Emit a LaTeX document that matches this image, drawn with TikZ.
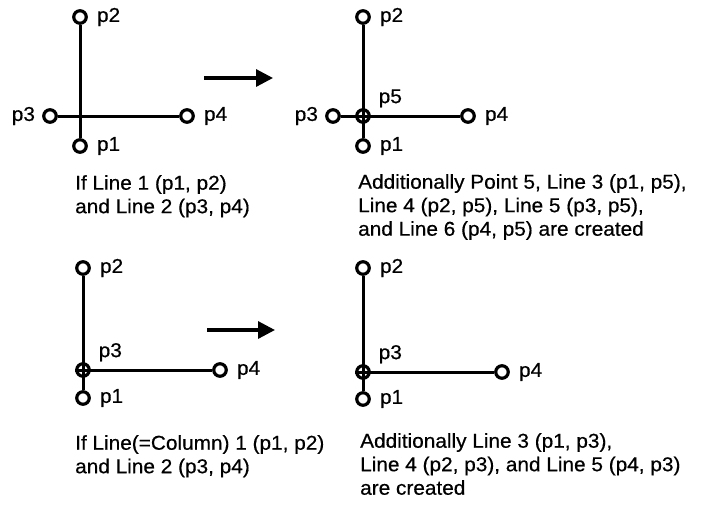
\documentclass[tikz,border=0pt]{standalone}
\usepackage{fontspec}
\newfontfamily\diagfont[FakeStretch=1.04, FakeBold=0.5]{Liberation Sans}
\usetikzlibrary{arrows.meta, positioning}
\tikzset{
    pnt/.style={
        circle,
        draw,
        line width=3.2pt,
        minimum size=12.5pt,
        inner sep=0pt
    },
    lbl/.style={
        font=\diagfont\fontsize{20}{24}\selectfont,
        inner sep=1pt
    },
    desc/.style={
        font=\diagfont\fontsize{20}{23.5}\selectfont,
        align=left,
        anchor=north west,
        inner sep=0pt
    },
    seg/.style={
        line width=3pt
    },
    bigarrow/.style={
        -{Triangle[length=17pt, width=17pt]},
        line width=3.2pt
    }
}

\begin{document}
\begin{tikzpicture}[x=1pt, y=-1pt]
        \useasboundingbox (0,0) rectangle (717,504);

        % Top left: Line 1 and Line 2 crossing
        \node[pnt] (a-p2) at (80,17) {};
        \node[pnt] (a-p1) at (80,146) {};
        \node[pnt] (a-p3) at (50,116) {};
        \node[pnt] (a-p4) at (187,116) {};
        \draw[seg] (a-p2) -- (a-p1);
        \draw[seg] (a-p3) -- (a-p4);
        \node[lbl, right=8pt of a-p2] (a-l2) {p2};
        \node[lbl, right=8pt of a-p1] (a-l1) {p1};
        \node[lbl, left=6pt of a-p3] (a-l3) {p3};
        \node[lbl, right=8pt of a-p4] (a-l4) {p4};
        \node[desc] (a-txt) at (75,175) {If Line 1 (p1, p2)\\and Line 2 (p3, p4)};

        % Top arrow
        \coordinate (a-from) at (204,78);
        \coordinate (a-to) at (273,78);
        \draw[bigarrow] (a-from) -- (a-to);

        % Top right: Point 5 added at the crossing
        \node[pnt] (b-p2) at (363,17) {};
        \node[pnt] (b-p1) at (363,146) {};
        \node[pnt] (b-p3) at (333,116) {};
        \node[pnt] (b-p4) at (468,116) {};
        \node[pnt] (b-p5) at (363,116) {};
        \draw[seg] (b-p2) -- (b-p1);
        \draw[seg] (b-p3) -- (b-p4);
        \node[lbl, right=8pt of b-p2] (b-l2) {p2};
        \node[lbl, right=8pt of b-p1] (b-l1) {p1};
        \node[lbl, left=6pt of b-p3] (b-l3) {p3};
        \node[lbl, right=8pt of b-p4] (b-l4) {p4};
        \node[lbl, above right=2pt and 9pt of b-p5] (b-l5) {p5};
        \node[desc] (b-txt) at (358,174) {Additionally Point 5, Line 3 (p1, p5),\\Line 4 (p2, p5), Line 5 (p3, p5),\\and Line 6 (p4, p5) are created};

        % Bottom left: Line 2 starts on the column
        \node[pnt] (c-p2) at (83,268) {};
        \node[pnt] (c-p1) at (83,398) {};
        \node[pnt] (c-p3) at (83,370) {};
        \node[pnt] (c-p4) at (220,370) {};
        \draw[seg] (c-p2) -- (c-p1);
        \draw[seg] (c-p3.west) -- (c-p4);
        \node[lbl, right=8pt of c-p2] (c-l2) {p2};
        \node[lbl, right=8pt of c-p1] (c-l1) {p1};
        \node[lbl, above right=2pt and 9pt of c-p3] (c-l3) {p3};
        \node[lbl, right=8pt of c-p4] (c-l4) {p4};
        \node[desc] (c-txt) at (75,435) {If Line(=Column) 1 (p1, p2)\\and Line 2 (p3, p4)};

        % Bottom arrow
        \coordinate (c-from) at (207,330);
        \coordinate (c-to) at (275,330);
        \draw[bigarrow] (c-from) -- (c-to);

        % Bottom right: column split at p3
        \node[pnt] (d-p2) at (363,268) {};
        \node[pnt] (d-p1) at (363,399) {};
        \node[pnt] (d-p3) at (363,372) {};
        \node[pnt] (d-p4) at (502,372) {};
        \draw[seg] (d-p2) -- (d-p1);
        \draw[seg] (d-p3.west) -- (d-p4);
        \node[lbl, right=8pt of d-p2] (d-l2) {p2};
        \node[lbl, right=8pt of d-p1] (d-l1) {p1};
        \node[lbl, above right=2pt and 9pt of d-p3] (d-l3) {p3};
        \node[lbl, right=8pt of d-p4] (d-l4) {p4};
        \node[desc] (d-txt) at (360,433) {Additionally Line 3 (p1, p3),\\Line 4 (p2, p3), and Line 5 (p4, p3)\\are created};
    \end{tikzpicture}
\end{document}
